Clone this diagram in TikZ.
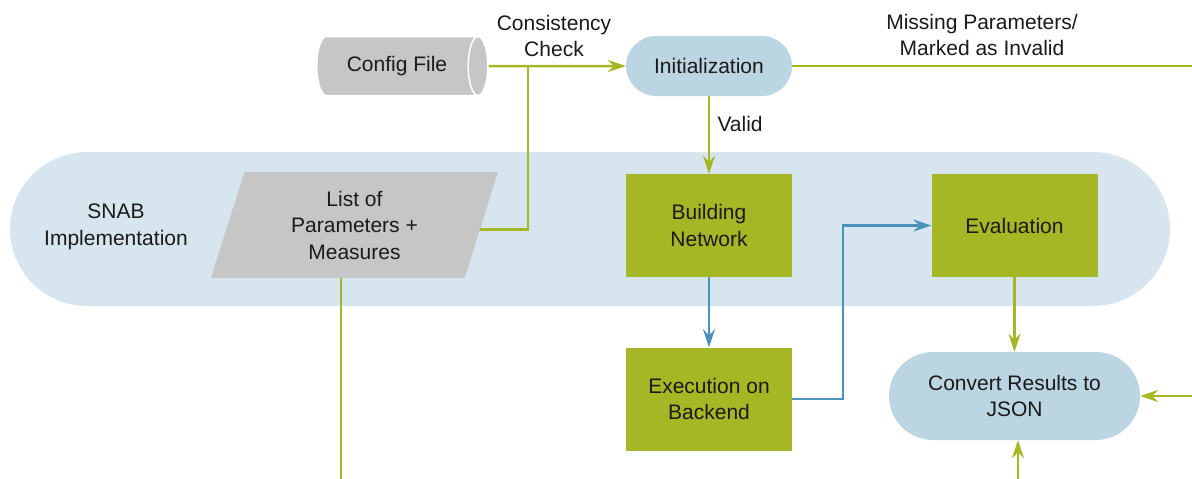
\documentclass[tikz,border=0pt]{standalone}
\usepackage{fontspec}
\setmainfont{Liberation Sans}
\usetikzlibrary{arrows.meta,shapes.geometric,shapes.misc}
\definecolor{snabgreen}{RGB}{166,183,38}
\definecolor{snabblue}{RGB}{75,146,186}
\definecolor{pillblue}{RGB}{188,213,226}
\definecolor{bandblue}{RGB}{215,229,238}
\definecolor{filegray}{RGB}{198,198,198}
\definecolor{inkgray}{RGB}{26,26,26}
\begin{document}
\begin{tikzpicture}[
  x=1pt,y=-1pt,
  font=\fontsize{21}{26.5}\selectfont,
  text=inkgray,
  band/.style={fill=bandblue, rounded corners=77pt, minimum width=1160, minimum height=154, inner sep=0pt},
  pill/.style={rounded rectangle, fill=pillblue, align=center, inner sep=0pt},
  stepbox/.style={fill=snabgreen, align=center, minimum width=166, minimum height=103, inner sep=0pt},
  file/.style={cylinder, shape aspect=1, cylinder uses custom fill, cylinder body fill=filegray,
    cylinder end fill=filegray, draw=white, line width=1.5pt, minimum width=59, minimum height=171, inner sep=0pt},
  params/.style={trapezium, trapezium left angle=64, trapezium right angle=116, trapezium stretches body,
    fill=filegray, align=center, minimum width=287, minimum height=106, inner sep=0pt},
  gline/.style={line width=2.5pt, snabgreen},
  bline/.style={line width=2.5pt, snabblue},
  tip/.style={-{Stealth[length=18pt,width=12pt,inset=6pt]}}
]
\useasboundingbox (0,0) rectangle (1192,479);

\node[band] (band) at (590,229) {};
\node[align=center] (snab) at (116,227) {SNAB\\Implementation};

\node[file] (config) at (397,66) {Config File};
\node[pill, minimum width=166, minimum height=60] (init) at (709,66) {Initialization};
\node[params] (params) at (354.5,225) {List of\\Parameters +\\Measures};
\node[stepbox] (build) at (709,225.5) {Building\\Network};
\node[stepbox] (eval) at (1014.5,225.5) {Evaluation};
\node[stepbox] (exec) at (709,399) {Execution on\\Backend};
\node[pill, minimum width=251, minimum height=88] (convert) at (1014.5,396) {Convert Results to\\JSON};

\node[align=center] (check) at (554,36) {Consistency\\Check};
\node[align=center] (missing) at (982,35) {Missing Parameters/\\Marked as Invalid};
\node[right] (valid) at (714,124) {Valid};

\coordinate (split) at (528,66);
\coordinate (outR) at (1192,66);
\coordinate (inR) at (1192,396);
\coordinate (inB) at (1018,479);
\coordinate (outB) at (341,479);

% green flow
\draw[gline, tip] (config.east) -- (init.west);
\draw[gline] (split) |- (params.-2.5);
\draw[gline] (init.east) -- (outR);
\draw[gline, tip] (init.south) -- (build.north);
\draw[gline, tip] (eval.south) -- (convert.north);
\draw[gline, tip] (inR) -- (convert.east);
\draw[gline, tip] (inB) -- (convert.south -| inB);
\draw[gline] (params.south -| outB) -- (outB);

% blue flow
\draw[bline, tip] (build.south) -- (exec.north);
\draw[bline, tip] (exec.east) -- ++(51,0) |- (eval.west);
\end{tikzpicture}
\end{document}
